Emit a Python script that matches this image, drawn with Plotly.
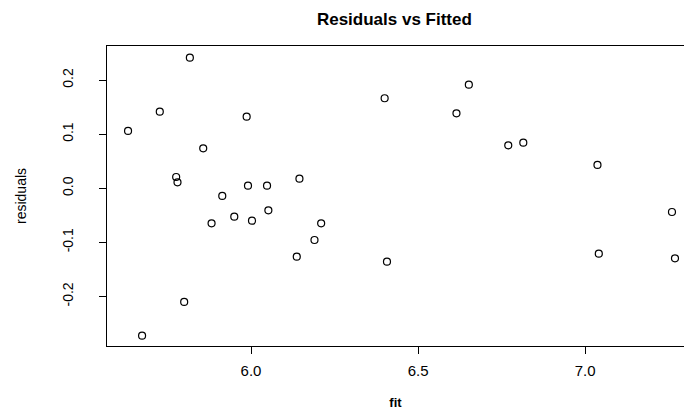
import plotly.graph_objects as go

fit = [5.632, 5.674, 5.727, 5.776, 5.780, 5.817, 5.800, 5.857, 5.882, 5.914,
       5.950, 5.987, 5.991, 6.003, 6.048, 6.052, 6.145, 6.137, 6.190, 6.210,
       6.400, 6.407, 6.615, 6.652, 6.770, 6.815, 7.037, 7.041, 7.260, 7.269]
residuals = [0.106, -0.2725, 0.1416, 0.0209, 0.0111, 0.2414, -0.210, 0.0739, -0.0647, -0.0142,
             -0.0525, 0.1323, 0.0048, -0.0599, 0.0048, -0.0407, 0.0178, -0.1264, -0.0956, -0.0647,
             0.1664, -0.1357, 0.1386, 0.1915, 0.0795, 0.0843, 0.0431, -0.1209, -0.0438, -0.1294]

x_ticks = [6.0, 6.5, 7.0]
x_ticklabels = ["6.0", "6.5", "7.0"]
y_ticks = [-0.2, -0.1, 0.0, 0.1, 0.2]
y_ticklabels = ["-0.2", "-0.1", "0.0", "0.1", "0.2"]

FONT = "Liberation Sans, Arial, sans-serif"

fig = go.Figure(go.Scatter(
    x=fit, y=residuals, mode="markers",
    marker=dict(symbol="circle-open", size=7, color="black", line=dict(width=1.2, color="black")),
    showlegend=False, hoverinfo="skip"))

fig.update_layout(
    width=684, height=410,
    margin=dict(l=107, r=0, t=46, b=64, autoexpand=False),
    paper_bgcolor="white", plot_bgcolor="white",
    font=dict(family=FONT, color="black"),
    title=dict(text="<b>Residuals vs Fitted</b>", x=0.5766, xanchor="center",
               y=1 - 19 / 410, yanchor="middle", font=dict(size=17, family=FONT)),
    xaxis=dict(range=[5.569, 7.296], tickvals=x_ticks, ticktext=x_ticklabels,
               showgrid=False, zeroline=False, showline=True, linecolor="black", linewidth=1,
               mirror=True, ticks="outside", ticklen=7, tickcolor="black", automargin=False,
               tickfont=dict(size=15, family=FONT), ticklabelstandoff=4,
               title=dict(text="<b>fit</b>", font=dict(size=13, family=FONT), standoff=20)),
    yaxis=dict(range=[-0.2915, 0.263], tickvals=y_ticks, ticktext=y_ticklabels,
               showgrid=False, zeroline=False, showline=True, linecolor="black", linewidth=1,
               mirror=False, ticks="outside", ticklen=7, tickcolor="black", tickangle=-90,
               automargin=False,
               tickfont=dict(size=14, family=FONT), ticklabelstandoff=20,
               title=dict(text="residuals", font=dict(size=14, family=FONT), standoff=30)),
)

fig.write_html("out.html", config={"displayModeBar": False},
               post_script="document.body.style.margin='0px';")
